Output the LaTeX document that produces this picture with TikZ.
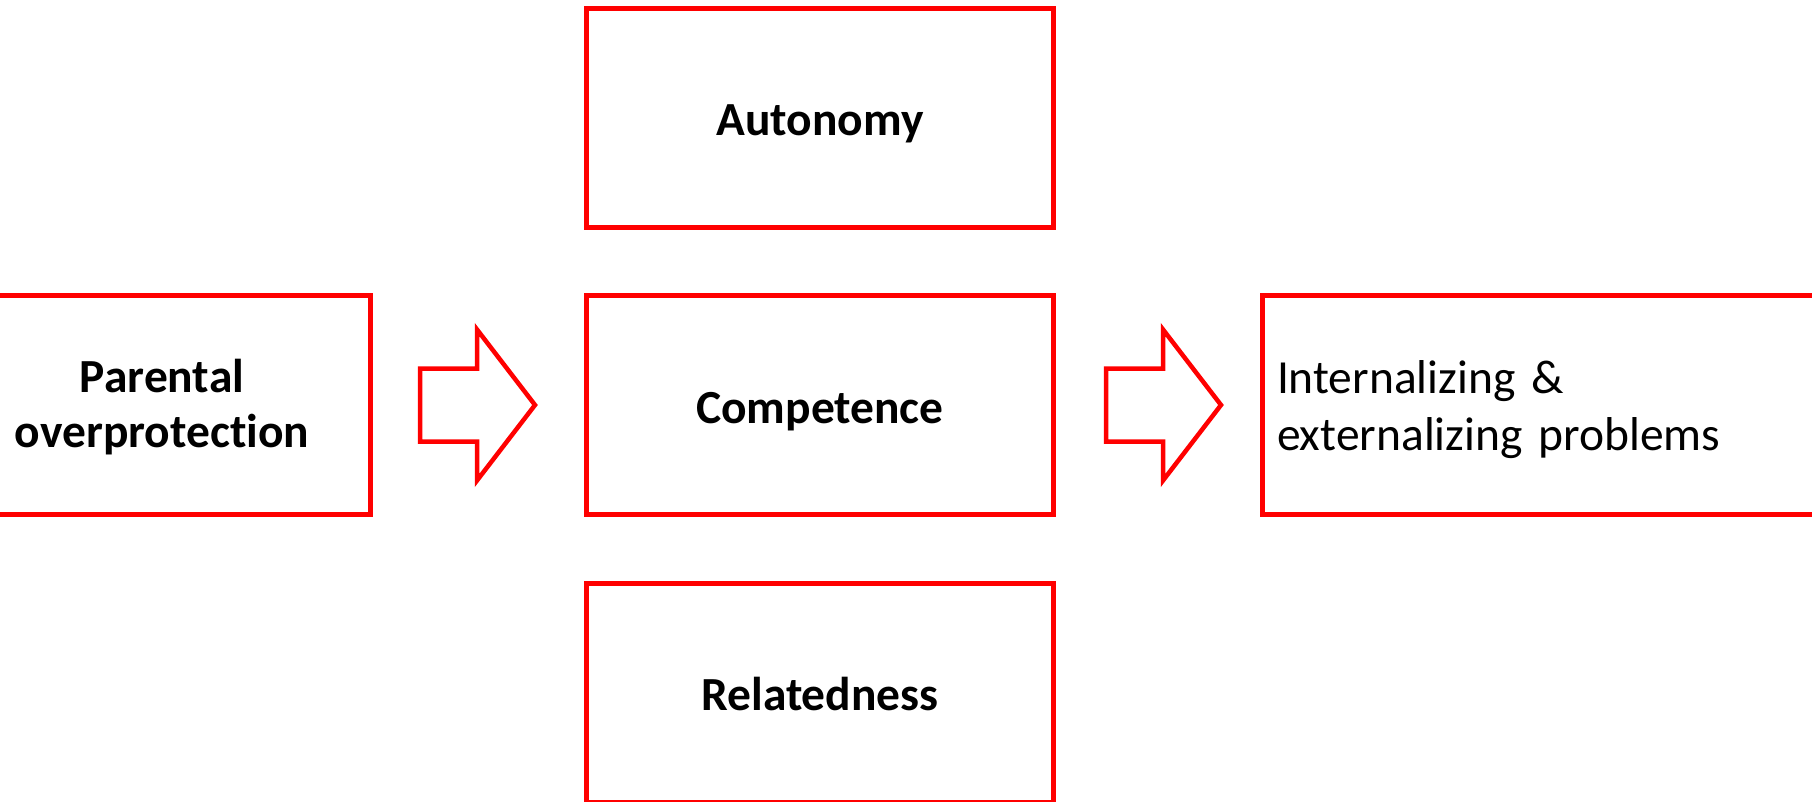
\documentclass[tikz,border=0pt]{standalone}
\usepackage{fontspec}
\setmainfont{Carlito}[Ligatures=NoCommon]
\usetikzlibrary{positioning}

\begin{document}
\begin{tikzpicture}[x=1pt, y=-1pt,
		every node/.style={minimum width=467.5pt, minimum height=219pt, align=center, text height=36pt, text depth=0pt, font=\fontsize{47.5}{55}\selectfont\bfseries},
		box/.style={draw=red, line width=5pt, inner sep=0pt},
		blockarrow/.style={draw=red, line width=4.5pt, miter limit=10}]
			\useasboundingbox (0,0) rectangle (1812,801);
			% Middle column
			\node[box] (auto) at (820,117.5) {Autonomy};
			\node[box] (comp) at (820,405) {Competence};
			\node[box] (rel) at (820,692.5) {Relatedness};
			% Left and right
			\node[box, minimum width=416pt, text height=84pt] (parent) at (162,405) {Parental\\overprotection};
			\node[box, minimum width=560pt, inner xsep=15pt, text width=530pt, align=left, text height=0pt, text depth=24pt, font=\fontsize{47.5}{57}\selectfont, anchor=west] (probs) at (1259.5,405) {Internalizing \&\\externalizing problems};
			% Block arrows
			\coordinate (arr1) at (420,405);
			\coordinate (arr2) at (1106,405);
			\draw[blockarrow] (arr1) ++(0,-36.5) -- ++(57,0) -- ++(0,-39) -- ++(58,75.5) -- ++(-58,75.5) -- ++(0,-39) -- ++(-57,0) -- cycle;
			\draw[blockarrow] (arr2) ++(0,-36.5) -- ++(57,0) -- ++(0,-39) -- ++(58,75.5) -- ++(-58,75.5) -- ++(0,-39) -- ++(-57,0) -- cycle;
		\end{tikzpicture}
\end{document}
